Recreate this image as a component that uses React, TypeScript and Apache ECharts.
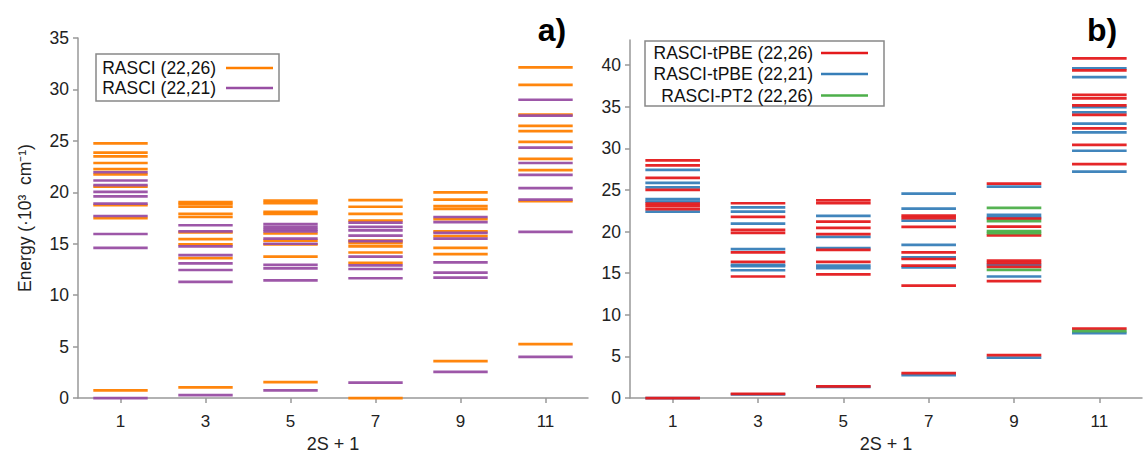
import React, { useEffect, useRef } from 'react';
import * as echarts from 'echarts';

const multiplicities = ['1', '3', '5', '7', '9', '11'];
const yTicksA = [0, 5, 10, 15, 20, 25, 30, 35];
const yTicksB = [0, 5, 10, 15, 20, 25, 30, 35, 40];

// Panel a) energies (10^3 cm^-1), one list per multiplicity 1,3,5,7,9,11
const rasci2226 = [
  [24.75, 23.85, 23.5, 22.85, 22.25, 21.75, 20.55, 18.75, 17.5, 0.75],
  [19.05, 18.85, 18.6, 17.9, 17.6, 16.1, 15.45, 14.95, 13.6, 1.05],
  [19.2, 18.95, 18.1, 17.9, 16.0, 15.3, 14.95, 13.75, 1.55],
  [19.25, 18.6, 17.9, 17.25, 15.3, 15.05, 14.75, 14.15, 13.15, 0.0],
  [20.0, 19.3, 18.65, 18.4, 17.4, 16.2, 15.75, 14.6, 14.0, 3.6],
  [32.15, 30.45, 27.55, 26.45, 25.95, 24.9, 23.25, 22.15, 19.15, 5.25],
];
const rasci2221 = [
  [21.95, 21.15, 20.7, 20.05, 19.6, 18.9, 17.7, 15.95, 14.6, 0.0],
  [16.8, 16.2, 14.75, 13.9, 13.1, 12.45, 11.3, 0.28],
  [16.9, 16.65, 16.4, 16.2, 15.5, 15.0, 12.95, 12.6, 11.45, 0.75],
  [17.05, 16.65, 16.3, 15.8, 15.25, 13.75, 12.9, 12.55, 11.65, 1.5],
  [17.6, 17.1, 16.05, 15.5, 13.2, 12.2, 11.7, 2.55],
  [29.0, 27.45, 24.35, 22.85, 21.7, 20.4, 19.3, 16.15, 4.0],
];

// Panel b)
const tpbe2226 = [
  [28.55, 27.95, 26.45, 25.0, 23.35, 23.05, 22.7, 0.0],
  [23.4, 21.75, 20.2, 19.85, 17.5, 16.35, 14.6, 0.5],
  [23.75, 23.4, 21.2, 20.45, 19.7, 17.8, 16.35, 14.85, 1.4],
  [21.9, 21.6, 20.55, 17.5, 16.7, 15.9, 13.5, 3.0],
  [25.75, 21.55, 20.6, 19.55, 16.5, 16.2, 15.75, 14.05, 5.15],
  [40.8, 39.35, 36.4, 36.0, 35.15, 34.0, 32.4, 30.4, 28.1, 8.35],
];
const tpbe2221 = [
  [27.4, 25.85, 25.3, 23.9, 23.6, 22.4, 0.0],
  [22.9, 22.4, 20.95, 17.9, 16.0, 15.85, 15.35, 0.45],
  [21.88, 19.35, 18.0, 15.9, 15.6, 1.35],
  [24.55, 22.75, 21.3, 18.4, 16.9, 15.7, 2.75],
  [25.4, 22.0, 21.7, 16.0, 14.6, 4.85],
  [39.6, 38.55, 34.95, 34.3, 32.95, 31.9, 29.7, 27.2, 7.8],
];
const pt2226 = [
  [],
  [],
  [],
  [],
  [22.85, 21.25, 20.05, 19.8, 15.4],
  [8.05],
];

const FONT = 'Liberation Sans, Arial, sans-serif';
const ORANGE = '#FF7F00';
const PURPLE = '#984EA3';
const RED = '#E41A1C';
const BLUE = '#377EB8';
const GREEN = '#4DAF4A';

function toData(levels: number[][]) {
  const out: number[][] = [];
  levels.forEach((arr, i) => arr.forEach((v) => out.push([i, v])));
  return out;
}

function levelSeries(name: string, levels: number[][], color: string, axisIndex: number) {
  return {
    name,
    type: 'custom',
    xAxisIndex: axisIndex,
    yAxisIndex: axisIndex,
    data: toData(levels),
    encode: { x: 0, y: 1 },
    renderItem: (params: any, api: any) => {
      const c = api.coord([api.value(0), api.value(1)]);
      const bw = api.size([1, 0])[0];
      const half = bw * 0.32;
      return {
        type: 'line',
        shape: { x1: c[0] - half, y1: c[1], x2: c[0] + half, y2: c[1] },
        style: { stroke: color, lineWidth: 2.7, opacity: 0.95 },
      };
    },
  };
}

function xAxisDef(gridIndex: number) {
  return {
    type: 'category',
    gridIndex,
    data: multiplicities,
    boundaryGap: true,
    name: '2S + 1',
    nameLocation: 'middle',
    nameGap: 33,
    nameTextStyle: { fontFamily: FONT, fontSize: 18, color: '#222' },
    axisLine: { show: true, lineStyle: { color: '#999', width: 1.5 } },
    axisTick: { show: true, alignWithLabel: true, length: 5, lineStyle: { color: '#999', width: 1.5 } },
    axisLabel: { fontFamily: FONT, fontSize: 17, color: '#222', margin: 15 },
    splitLine: { show: false },
  };
}

function yAxisDef(gridIndex: number, max: number, ticks: number[], name: string) {
  return {
    type: 'value',
    gridIndex,
    min: 0,
    max,
    interval: 5,
    name,
    nameLocation: 'middle',
    nameGap: 44,
    nameTextStyle: { fontFamily: FONT, fontSize: 17.5, color: '#222' },
    axisLine: { show: true, lineStyle: { color: '#999', width: 1.5 } },
    axisTick: { show: true, length: 5, customValues: ticks, lineStyle: { color: '#999', width: 1.5 } },
    axisLabel: { fontFamily: FONT, fontSize: 17.5, color: '#222', margin: 9, customValues: ticks },
    splitLine: { show: false },
  };
}

function legendGraphics(
  box: { x: number; y: number; w: number; h: number },
  textRight: number,
  lineX1: number,
  lineX2: number,
  rows: { label: string; color: string; y: number }[]
) {
  const els: any[] = [
    {
      type: 'rect',
      shape: { x: box.x, y: box.y, width: box.w, height: box.h },
      style: { fill: 'rgba(255,255,255,0)', stroke: '#888', lineWidth: 1.5 },
      z: 10,
    },
  ];
  rows.forEach((r) => {
    els.push({
      type: 'text',
      x: textRight,
      y: r.y,
      style: {
        text: r.label,
        fontFamily: FONT,
        fontSize: 17.5,
        fill: '#111',
        align: 'right',
        verticalAlign: 'middle',
      },
      z: 10,
    });
    els.push({
      type: 'line',
      shape: { x1: lineX1, y1: r.y, x2: lineX2, y2: r.y },
      style: { stroke: r.color, lineWidth: 2.7 },
      z: 10,
    });
  });
  return els;
}

export default function App() {
  const ref = useRef<HTMLDivElement>(null);

  useEffect(() => {
    document.body.style.margin = '0';
    if (!ref.current) return;
    const chart = echarts.init(ref.current, undefined, { renderer: 'svg' });
    const option: any = {
      animation: false,
      backgroundColor: '#fff',
      grid: [
        { left: 78, top: 38, width: 510, height: 372 },
        { left: 630, top: 40, width: 512, height: 371 },
      ],
      xAxis: [xAxisDef(0), xAxisDef(1)],
      yAxis: [
        yAxisDef(0, 35, yTicksA, 'Energy (·10³  cm⁻¹)'),
        yAxisDef(1, 43, yTicksB, ''),
      ],
      series: [
        levelSeries('RASCI (22,26)', rasci2226, ORANGE, 0),
        levelSeries('RASCI (22,21)', rasci2221, PURPLE, 0),
        levelSeries('RASCI-tPBE (22,21)', tpbe2221, BLUE, 1),
        levelSeries('RASCI-tPBE (22,26)', tpbe2226, RED, 1),
        levelSeries('RASCI-PT2 (22,26)', pt2226, GREEN, 1),
      ],
      graphic: [
        ...legendGraphics({ x: 96, y: 54, w: 183, h: 47 }, 216, 226, 273, [
          { label: 'RASCI (22,26)', color: ORANGE, y: 68 },
          { label: 'RASCI (22,21)', color: PURPLE, y: 88 },
        ]),
        ...legendGraphics({ x: 645, y: 41, w: 239, h: 65 }, 813, 821, 868, [
          { label: 'RASCI-tPBE (22,26)', color: RED, y: 53 },
          { label: 'RASCI-tPBE (22,21)', color: BLUE, y: 74 },
          { label: 'RASCI-PT2 (22,26)', color: GREEN, y: 95.5 },
        ]),
        {
          type: 'text',
          x: 552,
          y: 30,
          style: { text: 'a)', fontFamily: FONT, fontSize: 32, fontWeight: 'bold', fill: '#000', align: 'center', verticalAlign: 'middle' },
        },
        {
          type: 'text',
          x: 1102,
          y: 30,
          style: { text: 'b)', fontFamily: FONT, fontSize: 32, fontWeight: 'bold', fill: '#000', align: 'center', verticalAlign: 'middle' },
        },
      ],
    };
    chart.setOption(option);
    return () => chart.dispose();
  }, []);

  return <div ref={ref} style={{ width: 1143, height: 458 }} />;
}
